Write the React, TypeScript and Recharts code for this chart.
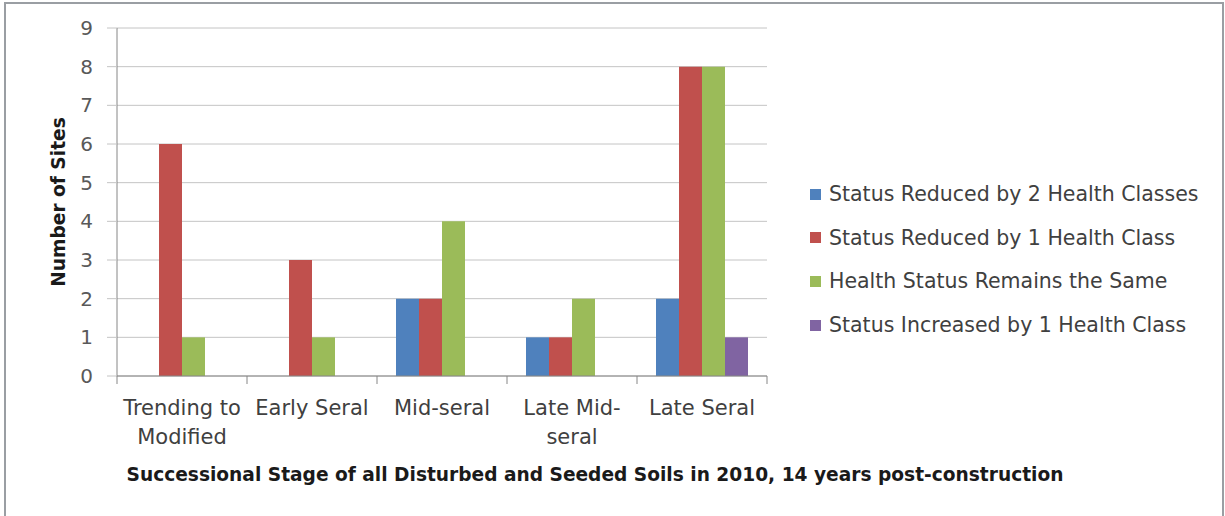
import { Bar, BarChart, CartesianGrid, Label, XAxis, YAxis } from "recharts";

const categories = ["Trending to\nModified", "Early Seral", "Mid-seral", "Late Mid-\nseral", "Late Seral"];
const seriesNames = [
  "Status Reduced by 2 Health Classes",
  "Status Reduced by 1 Health Class",
  "Health Status Remains the Same",
  "Status Increased by 1 Health Class",
];
const reducedBy2 = [0, 0, 2, 1, 2];
const reducedBy1 = [6, 3, 2, 1, 8];
const remainsSame = [1, 1, 4, 2, 8];
const increasedBy1 = [0, 0, 0, 0, 1];
const yTicks = [0, 1, 2, 3, 4, 5, 6, 7, 8, 9];

const colors = ["#4F81BD", "#C0504D", "#9BBB59", "#8064A2"];
const keys = ["s0", "s1", "s2", "s3"];

const W = 1225;
const H = 516;
const M = { top: 28, right: 458, bottom: 40, left: 17 };
const Y_AXIS_W = 100;
const X_AXIS_H = 100;
const PLOT_LEFT = M.left + Y_AXIS_W;
const PLOT_BOTTOM = H - M.bottom - X_AXIS_H;
const BAND = (W - M.right - PLOT_LEFT) / categories.length;
const FONT = "'DejaVu Sans', sans-serif";

const data = categories.map((name, i) => ({
  name,
  s0: reducedBy2[i],
  s1: reducedBy1[i],
  s2: remainsSame[i],
  s3: increasedBy1[i],
}));

const CategoryTick = (props: any) => {
  const { x, payload, index } = props;
  const lines = String(payload.value).split("\n");
  const left = x - BAND / 2;
  return (
    <g>
      <line x1={left} y1={PLOT_BOTTOM} x2={left} y2={PLOT_BOTTOM + 8} stroke="#868686" />
      {index === categories.length - 1 && (
        <line x1={x + BAND / 2} y1={PLOT_BOTTOM} x2={x + BAND / 2} y2={PLOT_BOTTOM + 8} stroke="#868686" />
      )}
      <text x={x} y={PLOT_BOTTOM + 39} textAnchor="middle" fill="#404040" fontSize={21} fontFamily={FONT}>
        {lines.map((l, i) => (
          <tspan key={i} x={x} dy={i === 0 ? 0 : 29}>
            {l}
          </tspan>
        ))}
      </text>
    </g>
  );
};

export default function App() {
  return (
    <div style={{ position: "fixed", left: 0, top: 0, width: W, height: H, background: "#fff", overflow: "hidden" }}>
      <div
        style={{
          position: "absolute",
          left: 4,
          top: 2,
          width: 1220,
          height: 530,
          border: "2px solid #9a9ea3",
          boxSizing: "border-box",
        }}
      />
      <div style={{ position: "absolute", left: 0, top: 0 }}>
        <BarChart width={W} height={H} data={data} margin={M} barCategoryGap={19} barGap={0}>
          <CartesianGrid vertical={false} stroke="#c4c4c4" />
          <XAxis
            dataKey="name"
            height={X_AXIS_H}
            interval={0}
            tickLine={false}
            axisLine={{ stroke: "#868686" }}
            tick={<CategoryTick />}
          >
            <Label
              content={() => (
                <text
                  x={595}
                  y={481}
                  textAnchor="middle"
                  fill="#1a1a1a"
                  fontWeight="bold"
                  fontSize={18.6}
                  fontFamily={FONT}
                >
                  Successional Stage of all Disturbed and Seeded Soils in 2010, 14 years post-construction
                </text>
              )}
            />
          </XAxis>
          <YAxis
            width={Y_AXIS_W}
            domain={[0, 9]}
            ticks={yTicks}
            interval={0}
            tickSize={10}
            tickMargin={14}
            tickLine={{ stroke: "#c4c4c4" }}
            axisLine={{ stroke: "#868686" }}
            tick={{ fill: "#595959", fontSize: 20, fontFamily: FONT }}
          >
            <Label
              content={() => (
                <text
                  x={0}
                  y={0}
                  transform={`translate(58, 202) rotate(-90)`}
                  textAnchor="middle"
                  dominantBaseline="central"
                  fill="#1a1a1a"
                  fontWeight="bold"
                  fontSize={18.6}
                  fontFamily={FONT}
                >
                  Number of Sites
                </text>
              )}
            />
          </YAxis>
          {keys.map((k, i) => (
            <Bar key={k} dataKey={k} name={seriesNames[i]} fill={colors[i]} isAnimationActive={false} />
          ))}
        </BarChart>
      </div>
      {seriesNames.map((n, i) => (
        <div
          key={n}
          style={{
            position: "absolute",
            left: 810,
            top: 194 + i * 43.7 - 13,
            height: 26,
            display: "flex",
            alignItems: "center",
            fontFamily: FONT,
            fontSize: 20.5,
            color: "#404040",
            whiteSpace: "nowrap",
          }}
        >
          <span style={{ width: 11, height: 11, background: colors[i], marginRight: 8, display: "inline-block" }} />
          {n}
        </div>
      ))}
    </div>
  );
}
